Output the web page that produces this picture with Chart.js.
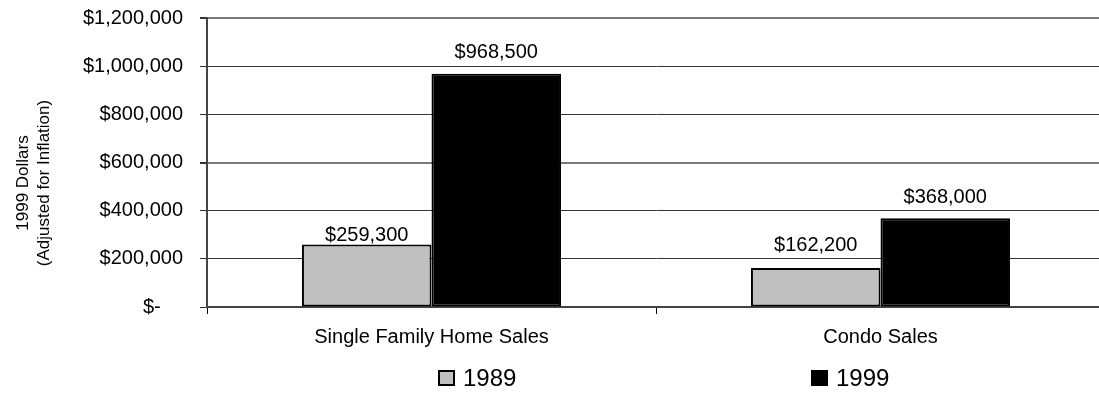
<!DOCTYPE html>
<html>
<head>
<meta charset="utf-8">
<script src="https://cdn.jsdelivr.net/npm/chart.js@4.4.1/dist/chart.umd.min.js"></script>
<style>
  html, body { margin: 0; padding: 0; background: #fff; overflow: hidden; width: 1099px; height: 394px; }
  #wrap { position: absolute; left: 0; top: 0; width: 1106px; height: 394px; }
</style>
</head>
<body>
<div id="wrap"><canvas id="c" width="1106" height="394"></canvas></div>
<script>
// Median sale prices, in 1999 dollars
const categories = ['Single Family Home Sales', 'Condo Sales'];
const seriesNames = ['1989', '1999'];
const values1989 = [259300, 162200];
const values1999 = [968500, 368000];
const yTickLabels = ['$-    ', '$200,000', '$400,000', '$600,000', '$800,000', '$1,000,000', '$1,200,000'];
const yTitleLines = ['1999 Dollars', '(Adjusted for Inflation)'];

const FONT = '"Liberation Sans", Arial, Helvetica, sans-serif';

// Dollar labels above each bar; gap (px) between bar top and text baseline per series
const labelGaps = [[4, 17], [16, 15]];
const valueLabels = {
  id: 'valueLabels',
  afterDatasetsDraw(chart) {
    const ctx = chart.ctx;
    ctx.save();
    ctx.font = '20px ' + FONT;
    ctx.fillStyle = '#000';
    ctx.textAlign = 'center';
    ctx.textBaseline = 'alphabetic';
    chart.data.datasets.forEach((ds, di) => {
      chart.getDatasetMeta(di).data.forEach((bar, i) => {
        const txt = '$' + ds.data[i].toLocaleString('en-US');
        ctx.fillText(txt, bar.x, bar.y - labelGaps[di][i]);
      });
    });
    ctx.restore();
  }
};

// Two-line rotated title for the value axis
const valueAxisTitle = {
  id: 'valueAxisTitle',
  afterDraw(chart) {
    const ctx = chart.ctx;
    ctx.save();
    ctx.font = '17px ' + FONT;
    ctx.fillStyle = '#000';
    ctx.textAlign = 'center';
    ctx.textBaseline = 'middle';
    const xs = [23, 44];
    yTitleLines.forEach((line, i) => {
      ctx.save();
      ctx.translate(xs[i], 183);
      ctx.rotate(-Math.PI / 2);
      ctx.fillText(line, 0, 0);
      ctx.restore();
    });
    ctx.restore();
  }
};

// Key below the chart: one swatch + year per series
const keyBoxes = [{ x: 438, text: 463 }, { x: 811, text: 836 }];
const seriesKey = {
  id: 'seriesKey',
  afterDraw(chart) {
    const ctx = chart.ctx;
    ctx.save();
    chart.data.datasets.forEach((ds, i) => {
      const k = keyBoxes[i];
      ctx.fillStyle = ds.backgroundColor;
      ctx.fillRect(k.x, 370, 17, 16);
      ctx.strokeStyle = '#000';
      ctx.lineWidth = 2;
      ctx.strokeRect(k.x + 1, 371, 15, 14);
      ctx.fillStyle = '#000';
      ctx.font = '24px ' + FONT;
      ctx.textAlign = 'left';
      ctx.textBaseline = 'middle';
      ctx.fillText(ds.label, k.text, 379);
    });
    ctx.restore();
  }
};

new Chart(document.getElementById('c'), {
  type: 'bar',
  data: {
    labels: categories,
    datasets: [
      {
        label: seriesNames[0],
        data: values1989,
        backgroundColor: '#c0c0c0',
        borderColor: '#000',
        borderWidth: 2,
        borderSkipped: false,
        categoryPercentage: 0.577,
        barPercentage: 1
      },
      {
        label: seriesNames[1],
        data: values1999,
        backgroundColor: '#000',
        borderColor: '#000',
        borderWidth: 2,
        borderSkipped: false,
        categoryPercentage: 0.577,
        barPercentage: 1
      }
    ]
  },
  options: {
    responsive: false,
    animation: false,
    devicePixelRatio: 1,
    layout: { padding: { top: 18, right: 1, bottom: 0, left: 0 } },
    plugins: {
      legend: { display: false },
      tooltip: { enabled: false }
    },
    scales: {
      x: {
        type: 'category',
        grid: { offset: true, drawOnChartArea: false, tickLength: 7, color: '#000', lineWidth: 1 },
        border: { color: '#444', width: 2 },
        ticks: { font: { family: FONT, size: 20 }, color: '#000', padding: 11, maxRotation: 0, autoSkip: false },
        afterFit(scale) { scale.height = 87; }
      },
      y: {
        min: 0,
        max: 1200000,
        grid: {
          color: (c) => (c.index === 3 || c.index === 6) ? '#7a7a7a' : '#333',
          lineWidth: (c) => (c.index === 3 || c.index === 6) ? 2 : 1,
          tickLength: 7,
          tickColor: '#333'
        },
        border: { color: '#444', width: 2 },
        ticks: {
          stepSize: 200000,
          font: { family: FONT, size: 20 },
          color: '#000',
          padding: 17,
          callback: (v, i) => yTickLabels[i]
        },
        afterFit(scale) {
          scale.width = 207;
          scale.paddingTop = 0;
          scale.paddingBottom = 0;
        }
      }
    }
  },
  plugins: [valueLabels, valueAxisTitle, seriesKey]
});
</script>
</body>
</html>
